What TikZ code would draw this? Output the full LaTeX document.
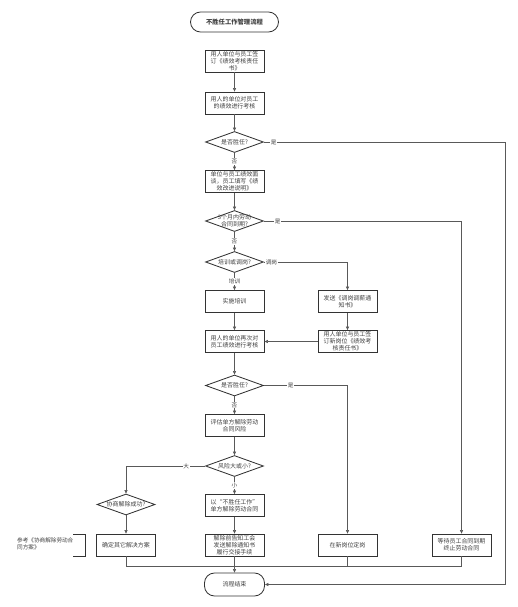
\documentclass[tikz,border=0pt]{standalone}
\usepackage{fontspec}
\setmainfont{Noto Sans CJK SC}
\usetikzlibrary{shapes.geometric, arrows.meta}

\begin{document}
\begin{tikzpicture}[x=0.05cm, y=-0.05cm, >={Triangle[length=5pt, width=4.5pt]},
    font=\fontsize{8.5}{10}\selectfont]

    % Styles for boxes, decisions and connectors
    \tikzset{
      proc/.style={draw=black!80, line width=1.2pt, minimum width=2.95cm, minimum height=1.1cm,
        inner sep=0pt, align=center, text=black!75},
      term/.style={proc, rounded corners=0.5cm},
      dec/.style={draw=black!80, line width=1.2pt, diamond, minimum width=2.9cm,
        minimum height=1.05cm, inner sep=0pt},
      dtxt/.style={align=center, text=black!75, inner sep=0pt},
      flow/.style={draw=black!65, line width=0.9pt},
      lbl/.style={fill=white, inner sep=1pt, text=black!75, font=\fontsize{8}{9}\selectfont}
    }

    \useasboundingbox (0,0) rectangle (517,607);

    % Define horizontal positions of the columns
    \def\xmain{234.5}  % main column
    \def\xmid{347.5}   % transfer column
    \def\xright{461.5} % contract expiry column
    \def\xleft{126}    % negotiation column
    \def\xouter{505}   % outer return line
    \def\ymerge{566}   % line joining the last row

    % --- Main column ---
    \node[term, minimum width=4.4cm, minimum height=1cm, font=\bfseries\fontsize{9}{10}\selectfont]
      (title) at (\xmain,22) {不胜任工作管理流程};
    \node[proc] (sign) at (\xmain,61) {用人单位与员工签\\订《绩效考核责任\\书》};
    \node[proc] (assess) at (\xmain,103) {用人的单位对员工\\的绩效进行考核};
    \node[dec, label={[dtxt]center:是否胜任?}] (fit) at (\xmain,142) {};
    \node[proc] (talk) at (\xmain,181.5) {单位与员工绩效面\\谈，员工填写《绩\\效改进说明》};
    \node[dec, label={[dtxt]center:{3个月内劳动\\合同到期?}}] (expire) at (\xmain,221) {};
    \node[dec, label={[dtxt]center:培训或调岗?}] (choice) at (\xmain,262) {};
    \node[proc] (train) at (\xmain,301.5) {实施培训};
    \node[proc] (reassess) at (\xmain,341.5) {用人的单位再次对\\员工绩效进行考核};
    \node[dec, label={[dtxt]center:是否胜任?}] (refit) at (\xmain,385.5) {};
    \node[proc] (risk) at (\xmain,425.5) {评估单方解除劳动\\合同风险};
    \node[dec, label={[dtxt]center:风险大或小?}] (size) at (\xmain,466) {};
    \node[proc] (dismiss) at (\xmain,505.5) {以“不胜任工作”\\单方解除劳动合同};
    \node[proc] (notify) at (\xmain,545) {解除前告知工会\\发送解除通知书\\履行交接手续};
    \node[term, minimum width=3cm, minimum height=1.15cm] (end) at (\xmain,584.5) {流程结束};

    % --- Side columns ---
    \node[proc] (notice) at (\xmid,301.5) {发送《调岗调薪通\\知书》};
    \node[proc] (newpost) at (\xmid,341.5) {用人单位与员工签\\订新岗位《绩效考\\核责任书》};
    \node[proc] (settle) at (\xmid,545) {在新岗位定岗};
    \node[proc] (wait) at (\xright,545) {等待员工合同到期\\终止劳动合同};
    \node[dec, label={[dtxt]center:协商解除成功?}] (agree) at (\xleft,504.5) {};
    \node[proc] (other) at (\xleft,545) {确定其它解决方案};

    % Annotation with bracket
    \node[align=left, anchor=west, inner sep=0pt, text=black!75, font=\fontsize{8}{10}\selectfont]
      (note) at (17,544) {参考《协商解除劳动合\\同方案》};
    \draw[draw=black!80, line width=1pt] (73,534) -| (85,556) -- (73,556);

    % --- Connectors ---
    \draw[flow, ->] (sign) -- (assess);
    \draw[flow, ->] (assess) -- (fit);
    \draw[flow, ->] (fit) -- node[lbl]{否} (talk);
    \draw[flow, ->] (fit.east) -- node[lbl, pos=0.04]{是} (\xouter,142) |- (end.east);
    \draw[flow, ->] (talk) -- (expire);
    \draw[flow, ->] (expire) -- node[lbl]{否} (choice);
    \draw[flow, ->] (expire.east) -| node[lbl, pos=0.035]{是} (wait.north);
    \draw[flow, ->] (choice) -- node[lbl]{培训} (train);
    \draw[flow, ->] (choice.east) -| node[lbl, pos=0.045]{调岗} (notice.north);
    \draw[flow, ->] (train) -- (reassess);
    \draw[flow, ->] (notice) -- (newpost);
    \draw[flow, ->] (newpost) -- (reassess);
    \draw[flow, ->] (reassess) -- (refit);
    \draw[flow, ->] (refit) -- node[lbl]{否} (risk);
    \draw[flow, ->] (refit.east) -| node[lbl, pos=0.16]{是} (settle.north);
    \draw[flow, ->] (risk) -- (size);
    \draw[flow, ->] (size) -- node[lbl]{小} (dismiss);
    \draw[flow, ->] (size.west) -| node[lbl, pos=0.12]{大} (agree.north);
    \draw[flow, ->] (agree) -- (other);
    \draw[flow, ->] (dismiss) -- (notify);
    \draw[flow, ->] (notify) -- (end);

    % Bottom row joins into the end node
    \coordinate (merge) at (\xmain,\ymerge);
    \draw[flow] (other.south) |- (merge);
    \draw[flow] (settle.south) |- (merge);
    \draw[flow] (wait.south) |- (merge);
\end{tikzpicture}
\end{document}
